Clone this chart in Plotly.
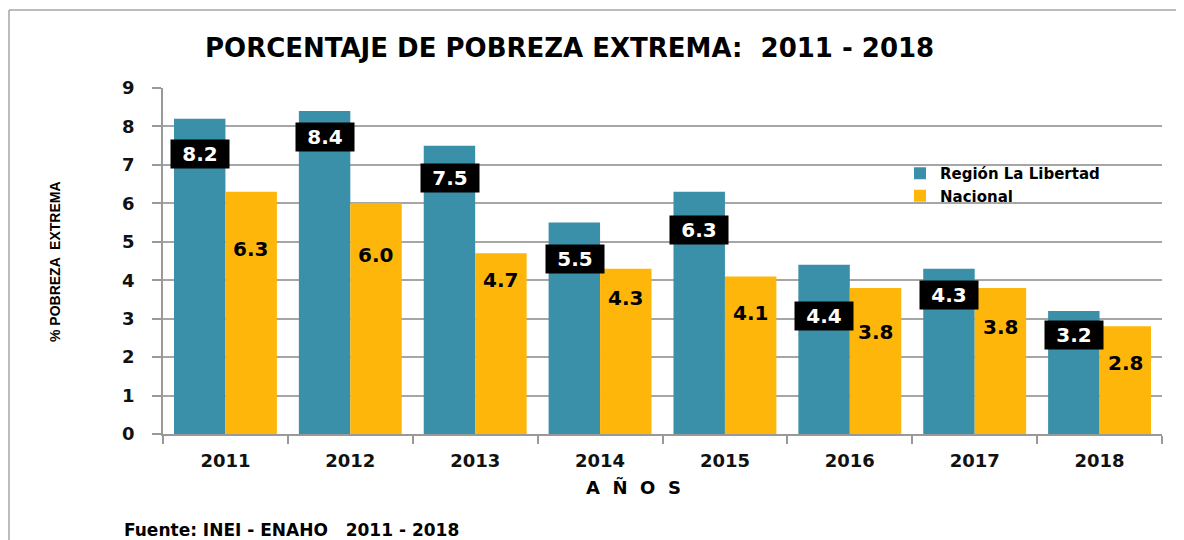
import plotly.graph_objects as go

years = ["2011", "2012", "2013", "2014", "2015", "2016", "2017", "2018"]
region = [8.2, 8.4, 7.5, 5.5, 6.3, 4.4, 4.3, 3.2]
nacional = [6.3, 6.0, 4.7, 4.3, 4.1, 3.8, 3.8, 2.8]
y_ticks = [0, 1, 2, 3, 4, 5, 6, 7, 8, 9]

# label offsets below bar tops (pixels), as placed in the reference
region_label_drop = [35, 26, 32, 36, 38, 51, 26, 24]
nacional_label_drop = [57, 52, 27, 29, 37, 44, 39, 37]

TEAL = "#3A90A8"
GOLD = "#FFB60B"
TICKFONT = dict(family="DejaVu Sans", size=18, color="#111111", weight="bold")

# page coordinates of the plot area in the reference
PX0, PX1, PY0, PY1 = 163, 1162, 434, 88


def px(xr):
    return (xr - PX0) / (PX1 - PX0)


def py(yr):
    return (PY0 - yr) / (PY0 - PY1)


fig = go.Figure()
fig.add_trace(go.Bar(x=years, y=region, name="Región La Libertad",
                     marker=dict(color=TEAL, line=dict(width=0))))
fig.add_trace(go.Bar(x=years, y=nacional, name="Nacional",
                     marker=dict(color=GOLD, line=dict(width=0))))

half = 25.5
for i, yr in enumerate(years):
    fig.add_annotation(x=i, y=region[i], xref="x", yref="y", text=f"{region[i]:.1f}",
                       showarrow=False, xshift=-half, yshift=-region_label_drop[i],
                       xanchor="center", yanchor="middle", width=50, height=20,
                       bgcolor="black", borderpad=4,
                       font=dict(family="DejaVu Sans", size=20, color="white", weight="bold"))
    fig.add_annotation(x=i, y=nacional[i], xref="x", yref="y", text=f"{nacional[i]:.1f}",
                       showarrow=False, xshift=half, yshift=-nacional_label_drop[i],
                       xanchor="center", yanchor="middle",
                       font=dict(family="DejaVu Sans", size=20, color="black", weight="bold"))

# title, axis titles, source
fig.add_annotation(x=px(569), y=py(48), xref="paper", yref="paper", xanchor="center", yanchor="middle",
                   text="PORCENTAJE DE POBREZA EXTREMA:  2011 - 2018", showarrow=False,
                   font=dict(family="DejaVu Sans", size=26, color="black", weight="bold"))
fig.add_annotation(x=px(633), y=py(487), xref="paper", yref="paper", xanchor="center", yanchor="middle",
                   text="A&nbsp; Ñ&nbsp; O&nbsp; S", showarrow=False,
                   font=dict(family="DejaVu Sans", size=18, color="black", weight="bold"))
fig.add_annotation(x=px(55), y=py(262), xref="paper", yref="paper", xanchor="center", yanchor="middle",
                   text="% POBREZA  EXTREMA", showarrow=False, textangle=-90,
                   font=dict(family="Liberation Sans Narrow, Arial Narrow, Liberation Sans", size=14,
                             color="black", weight="bold"))
fig.add_annotation(x=px(122), y=py(530), xref="paper", yref="paper", xanchor="left", yanchor="middle",
                   text="Fuente: INEI - ENAHO   2011 - 2018", showarrow=False,
                   font=dict(family="DejaVu Sans", size=17, color="black", weight="bold"))

# outer frame (left and top edges)
fig.add_shape(type="line", xref="paper", yref="paper",
              x0=px(9), x1=px(9), y0=py(545), y1=py(10),
              line=dict(color="#A6A6A6", width=1.5))
fig.add_shape(type="line", xref="paper", yref="paper",
              x0=px(9), x1=px(1190), y0=py(10), y1=py(10),
              line=dict(color="#A6A6A6", width=1.5))

fig.update_layout(
    width=1176, height=532,
    margin=dict(l=PX0 - 8, r=1184 - PX1, t=PY1 - 8, b=540 - PY0),
    paper_bgcolor="white", plot_bgcolor="white",
    barmode="group", bargap=0.176, bargroupgap=0,
    showlegend=True,
    legend=dict(x=px(900), y=py(157), xanchor="left", yanchor="top",
                bgcolor="rgba(0,0,0,0)", tracegroupgap=0, itemwidth=30,
                font=dict(family="DejaVu Sans", size=15, color="black", weight="bold")),
    xaxis=dict(type="category", range=[-0.5, len(years) - 0.5], autorange=False,
               showgrid=False, showline=True, linecolor="#999999", linewidth=1.5,
               ticks="outside", ticklen=8, tickcolor="#999999", tickwidth=1.5,
               tickson="boundaries", tickfont=TICKFONT, ticklabelstandoff=10),
    yaxis=dict(range=[0, 9], autorange=False, tickvals=y_ticks, showgrid=True,
               gridcolor="#A6A6A6", gridwidth=1.5,
               showline=True, linecolor="#999999", linewidth=1.5,
               ticks="outside", ticklen=9, tickcolor="#999999", tickwidth=1.5,
               tickfont=TICKFONT, ticklabelstandoff=14, zeroline=False),
)

fig.write_html("out.html")
